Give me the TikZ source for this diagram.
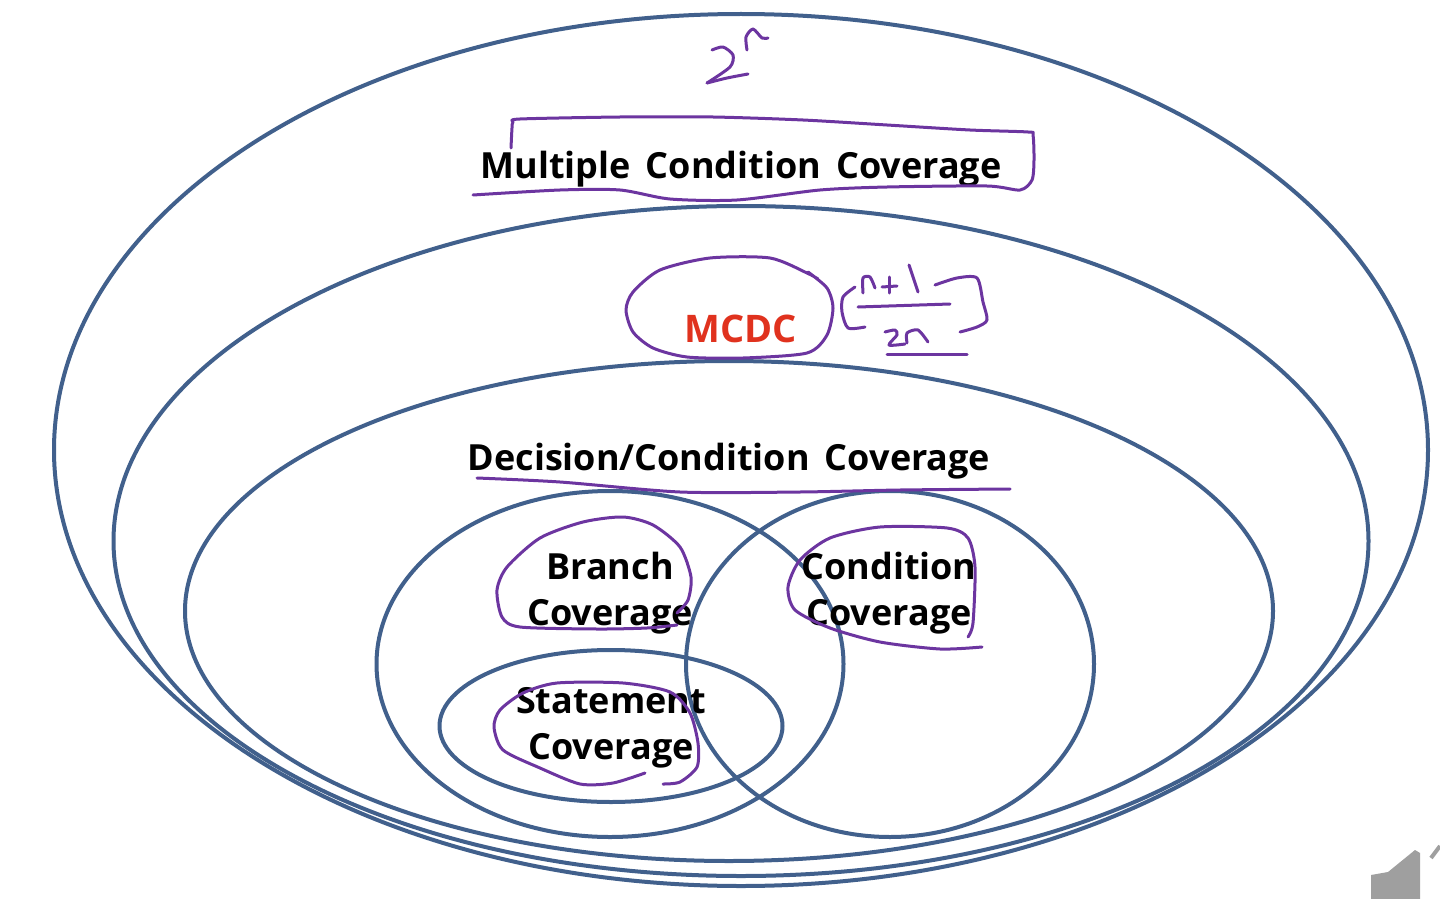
\documentclass[tikz,border=0pt]{standalone}
\usepackage{fontspec}
\setmainfont{Open Sans}
\definecolor{RingBlue}{HTML}{41608C}
\definecolor{PenPurple}{HTML}{6C35A0}
\definecolor{McdcRed}{HTML}{E0321E}
\tikzset{
  x=0.5pt,y=-0.5pt,
  ring/.style={draw=RingBlue,line width=2pt,ellipse,inner sep=0pt},
  covername/.style={font=\fontsize{18}{23}\selectfont\bfseries,text=black,align=center,inner sep=0pt},
  pen/.style={draw=PenPurple,line width=1.5pt,line cap=round,line join=round}
}
\usetikzlibrary{shapes.geometric}
\newcommand{\ring}[4]{%
  \node[ring,minimum width=#3*0.5pt,minimum height=#4*0.5pt] (#1) at #2 {};
}
\newcommand{\inkline}[1]{%
  \draw[pen] plot[smooth,tension=0.45] coordinates {#1};
}
\begin{document}
\begin{tikzpicture}
  \useasboundingbox (0,0) rectangle (1440,899);

  \ring{multiple}{(741,450)}{1374}{872}
  \ring{mcdcring}{(741,541)}{1255}{670}
  \ring{decision}{(729,611)}{1088}{500}
  \ring{branch}{(610,664)}{467}{346}
  \ring{condition}{(890,664)}{408}{346}
  \ring{statement}{(611,726)}{343}{152}

  \node[covername] (multiplename) at (741,169) {Multiple\hspace{0.42em}Condition\hspace{0.42em}Coverage};
  \node[covername,text=McdcRed,font=\fontsize{19}{23}\selectfont\bfseries] (mcdcname) at (741,329) {MCDC};
  \node[covername] (decisionname) at (729,461) {Decision/Condition\hspace{0.42em}Coverage};
  \node[covername] (branchname) at (610,593) {Branch\\Coverage};
  \node[covername] (conditionname) at (889,593) {Condition\\Coverage};
  \node[covername] (statementname) at (611,728) {Statement\\Coverage};

  % speaker icon in the corner
  \fill[gray!75] (1371,875) -- (1388,872) -- (1415,850) -- (1420,853) -- (1420,899) -- (1371,899) -- cycle;
  \draw[gray!75,line width=2pt] (1431,858) -- (1440,846);

  % pen strokes
  \inkline{(712,50) (723,47) (733,55) (730,67) (707,83)}
  \inkline{(707,83) (727,78) (748,74)}
  \inkline{(747,50) (746,37) (753,29) (762,38) (768,38)}
  \inkline{(511,148) (512,128) (513,122) (520,119) (620,117) (713,117) (803,120) (887,125) (970,130) (1028,132) (1033,135) (1034,160) (1032,180) (1020,190) (987,186) (887,187) (820,190) (737,200) (670,199) (620,190) (560,190) (473,195)}
  \inkline{(818,279) (807,273) (770,258) (710,258) (660,270) (633,292) (626,310) (633,332) (653,348) (687,357) (743,358) (807,353) (827,335) (833,308) (827,288) (808,272)}
  \inkline{(855,287) (843,297) (842,312) (848,328) (865,327)}
  \inkline{(935,285) (957,278) (977,278) (983,302) (987,320) (977,327) (960,332)}
  \inkline{(858,307) (950,304)}
  \inkline{(887,354) (967,354)}
  \inkline{(863,293) (863,278) (870,277) (875,288)}
  \inkline{(882,287) (897,286)}
  \inkline{(889,277) (889,293)}
  \inkline{(909,265) (918,292)}
  \inkline{(885,332) (895,330) (897,335) (889,345) (905,344)}
  \inkline{(907,343) (907,333) (918,330) (928,342)}
  \inkline{(477,478) (560,482) (680,492) (800,492) (900,490) (1010,489)}
  \inkline{(677,613) (688,600) (691,577) (680,547) (653,525) (623,517) (583,522) (540,538) (507,567) (497,590) (502,617) (520,627) (597,629) (647,628) (677,625)}
  \inkline{(968,637) (973,623) (975,567) (968,538) (947,528) (880,527) (830,538) (800,560) (788,587) (795,610) (830,628) (880,642) (940,649) (982,647)}
  \inkline{(645,773) (613,783) (580,784) (540,768) (503,750) (494,727) (500,710) (523,693) (557,683) (623,683) (670,692) (690,713) (698,743) (697,767) (680,782) (663,784)}
\end{tikzpicture}
\end{document}
